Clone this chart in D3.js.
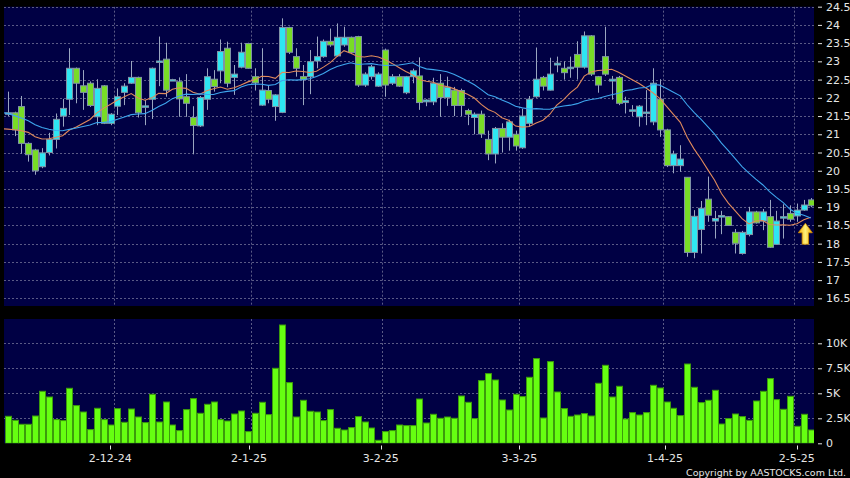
<!DOCTYPE html>
<html><head><meta charset="utf-8">
<script src="https://cdn.jsdelivr.net/npm/d3@7"></script>
<style>html,body{margin:0;padding:0;background:#000;}svg{display:block}</style>
</head><body>
<svg id="chart" width="850" height="478"></svg>
<script>
// ---------- DATA ----------
const opens  = [21.57,21.59,21.76,20.75,20.57,20.11,20.50,20.86,21.50,21.96,
                22.81,22.33,22.40,21.48,22.33,21.30,21.77,22.15,22.40,22.56,
                21.77,21.96,23.00,23.06,22.48,22.44,22.03,21.46,21.23,21.96,
                22.51,22.74,23.36,22.56,22.84,23.49,22.58,21.80,22.20,21.76,
                21.60,23.93,23.13,22.58,22.58,23.01,23.13,23.55,23.15,23.45,
                23.66,23.68,22.35,22.58,22.32,23.31,22.40,22.58,22.14,22.58,
                22.60,21.89,21.89,22.40,22.01,22.21,22.20,21.65,21.46,21.55,
                20.86,20.46,21.16,20.92,21.00,20.63,21.30,22.03,22.56,22.21,
                22.90,22.81,22.83,23.19,22.84,23.70,22.58,23.13,22.46,22.56,
                21.87,21.66,21.48,21.60,21.34,21.96,21.12,20.14,20.14,19.82,
                17.76,18.39,19.22,18.62,18.74,18.74,18.31,17.73,18.25,18.87,
                18.62,18.74,17.98,18.72,18.83,18.76,18.92,19.20];
const highs  = [22.17,21.62,22.05,20.78,20.60,20.62,21.04,21.57,21.97,23.36,
                22.83,22.76,22.45,22.51,22.35,21.58,22.26,22.40,23.01,22.58,
                21.94,22.83,23.68,23.51,22.52,22.56,22.65,21.77,22.05,22.81,
                22.76,23.60,23.54,22.90,23.51,23.51,22.81,23.36,22.35,22.10,
                24.18,23.95,23.36,22.90,23.31,23.68,23.60,23.90,24.04,23.95,
                23.68,23.70,22.70,22.90,22.70,23.35,22.65,22.65,22.60,22.80,
                23.11,21.96,22.55,22.65,22.58,22.30,22.25,21.70,21.60,21.65,
                21.10,21.20,21.30,21.40,21.10,21.70,22.05,23.38,22.60,23.10,
                23.13,23.00,23.13,23.55,23.82,23.72,22.60,23.95,22.60,22.60,
                22.03,21.80,21.80,22.21,22.81,22.51,21.15,20.55,20.70,19.82,
                18.92,19.17,19.84,18.90,18.90,18.75,18.40,18.35,19.01,18.90,
                18.95,19.20,18.90,19.08,19.05,19.10,19.20,19.25];
const lows   = [21.50,20.95,20.47,20.25,19.89,20.07,20.42,20.61,21.21,21.53,
                21.85,21.67,21.75,21.25,21.28,21.25,21.53,21.80,22.38,21.46,
                21.25,21.42,22.32,22.03,22.46,21.48,21.48,20.45,21.20,21.67,
                22.17,22.40,22.29,22.08,22.81,22.80,22.20,21.78,21.85,21.37,
                21.58,23.20,22.58,21.80,22.10,22.81,23.10,23.40,23.13,23.40,
                23.20,22.30,22.30,22.50,22.30,22.03,22.35,22.30,22.10,22.40,
                21.67,21.77,21.80,21.48,21.78,21.50,21.50,21.25,21.00,20.90,
                20.29,20.20,20.50,20.55,20.55,20.60,21.20,22.00,22.20,22.20,
                22.70,22.50,22.55,22.50,22.80,22.60,22.14,22.60,21.95,21.80,
                21.57,21.50,21.21,21.25,21.25,20.93,20.10,19.93,19.97,17.64,
                17.60,17.73,18.60,18.14,18.26,18.50,17.73,17.70,18.20,18.55,
                18.37,17.88,17.98,18.14,18.60,18.60,18.90,19.00];
const closes = [21.59,21.12,20.75,20.44,20.00,20.49,20.86,21.41,21.71,22.81,
                22.40,22.15,21.79,22.26,21.30,21.55,22.03,22.32,22.56,21.59,
                21.78,22.81,23.01,22.21,22.50,21.97,21.85,21.24,22.01,22.58,
                22.31,23.27,22.40,22.65,23.25,22.81,22.41,22.21,21.96,22.08,
                23.93,23.25,22.81,22.51,22.99,23.13,23.55,23.45,23.66,23.66,
                23.24,22.35,22.65,22.85,22.65,22.35,22.58,22.32,22.58,22.74,
                21.87,21.94,22.40,22.01,22.29,21.79,21.79,21.55,21.55,21.01,
                20.46,21.16,20.92,21.34,20.68,21.50,21.96,22.51,22.32,22.65,
                22.95,22.69,22.84,22.84,23.70,22.65,22.35,22.65,22.51,21.85,
                21.92,21.67,21.77,21.61,22.40,21.12,20.14,20.46,20.32,17.76,
                18.75,18.97,18.78,18.69,18.77,18.50,18.01,18.31,18.87,18.57,
                18.87,17.90,18.62,18.74,18.67,18.92,19.06,19.04];
// volume in thousands of shares
const volumes = [2.70,2.30,1.90,1.90,2.73,5.20,4.63,2.37,2.27,5.50,
                 3.77,3.13,1.37,3.50,2.37,1.83,3.47,2.10,3.43,2.63,
                 2.07,4.90,2.13,4.13,1.83,1.27,3.37,4.47,3.00,3.90,
                 4.13,2.37,2.23,2.93,3.23,1.17,3.00,4.10,2.87,7.50,
                 11.83,6.07,2.63,4.30,3.20,3.13,2.27,3.37,1.50,1.33,
                 1.57,2.67,2.13,1.53,0.30,1.17,1.27,1.83,1.77,1.77,
                 4.43,2.03,2.90,2.50,2.63,2.50,4.73,4.10,2.47,6.27,
                 6.97,6.33,4.33,3.33,4.90,4.67,6.60,8.47,2.53,8.17,
                 5.13,3.47,2.70,2.83,2.97,2.73,6.00,7.80,4.63,5.70,
                 2.43,3.07,2.83,3.07,5.80,5.53,4.13,3.50,2.77,7.93,
                 5.60,4.07,4.30,5.30,1.93,2.47,2.93,2.67,2.30,4.23,
                 5.20,6.47,4.37,3.40,4.70,1.70,2.90,1.33];
// estimated closes before the first visible session (feed the moving averages)
const priorCloses = [22.20,22.30,22.10,21.90,22.20,22.00,21.80,22.10,21.90,22.00,
                     21.70,21.30,21.00,20.90,21.20,21.10,20.80,21.00,21.30,21.23];
const monthStartIdx = [16,36,55,75,96,115];
const monthLabels = ["2-12-24","2-1-25","3-2-25","3-3-25","1-4-25","2-5-25"];
const priceTicks = [16.5,17,17.5,18,18.5,19,19.5,20,20.5,21,21.5,22,22.5,23,23.5,24,24.5];
const volumeTicks = [0,2.5,5,7.5,10];
const volumeTickLabels = ["0","2.5K","5K","7.5K","10K"];
const maPeriods = [10,20];
const signalIdx = [116];
const signalPrice = [18.56];

// ---------- LAYOUT ----------
const W = 850, H = 478;
const panelL = 4, panelR = 814;
const priceTop = 6.67, priceBottom = 306;
const volTop = 319, volBottom = 443.3;
const FONT = "'DejaVu Sans', Verdana, sans-serif";

const C = {
  bg: "#000000", panel: "#000044", grid: "#5a5a86", text: "#e6e6e6",
  up: "#2ee6f2", down: "#78dc26", bodyStroke: "#7f93a6", wick: "#9aa6c0",
  vol: "#66ff11", volStroke: "#3c9c0c", ma10: "#e08a5c", ma20: "#3ea6ee"
};

const svg = d3.select("#chart");
svg.append("rect").attr("width", W).attr("height", H).attr("fill", C.bg);

const n = closes.length;
const x = d3.scaleLinear().domain([0, n - 1]).range([7.67, 810.7]);
const step = x(1) - x(0);
const labelX = d3.scaleLinear().domain([monthStartIdx[0], monthStartIdx[monthStartIdx.length-1]]).range([110.3, 796.7]);
const yP = d3.scaleLinear().domain([16.29, 24.5]).range([priceBottom, priceTop]);
const yV = d3.scaleLinear().domain([0, 12.43]).range([volBottom, volTop]);

const defs = svg.append("defs");
defs.append("clipPath").attr("id", "clipP").append("rect")
  .attr("x", panelL).attr("y", priceTop).attr("width", panelR - panelL).attr("height", priceBottom - priceTop);
defs.append("clipPath").attr("id", "clipV").append("rect")
  .attr("x", panelL).attr("y", volTop).attr("width", panelR - panelL).attr("height", volBottom - volTop);
const grad = defs.append("linearGradient").attr("id", "arrowGrad").attr("x1", 0).attr("x2", 1).attr("y1", 0).attr("y2", 0);
grad.append("stop").attr("offset", "0%").attr("stop-color", "#f0a800");
grad.append("stop").attr("offset", "50%").attr("stop-color", "#fff07a");
grad.append("stop").attr("offset", "100%").attr("stop-color", "#f0a800");

// panels
svg.append("rect").attr("x", panelL).attr("y", priceTop).attr("width", panelR - panelL)
  .attr("height", priceBottom - priceTop).attr("fill", C.panel);
svg.append("rect").attr("x", panelL).attr("y", volTop).attr("width", panelR - panelL)
  .attr("height", volBottom - volTop).attr("fill", C.panel);

const crisp = v => Math.round(v) + 0.5;

// grids
const gP = svg.append("g").attr("clip-path", "url(#clipP)");
gP.selectAll("line.h").data(priceTicks).join("line")
  .attr("x1", panelL).attr("x2", panelR)
  .attr("y1", d => crisp(yP(d))).attr("y2", d => crisp(yP(d)))
  .attr("stroke", C.grid).attr("stroke-dasharray", "2,2");
gP.selectAll("line.v").data(monthStartIdx).join("line")
  .attr("x1", d => crisp(x(d) - step / 2)).attr("x2", d => crisp(x(d) - step / 2))
  .attr("y1", priceTop).attr("y2", priceBottom)
  .attr("stroke", C.grid).attr("stroke-dasharray", "2,2");

const gV = svg.append("g").attr("clip-path", "url(#clipV)");
gV.selectAll("line.h").data(volumeTicks.filter(d => d > 0)).join("line")
  .attr("x1", panelL).attr("x2", panelR)
  .attr("y1", d => crisp(yV(d))).attr("y2", d => crisp(yV(d)))
  .attr("stroke", C.grid).attr("stroke-dasharray", "2,2");
gV.selectAll("line.v").data(monthStartIdx).join("line")
  .attr("x1", d => crisp(x(d) - step / 2)).attr("x2", d => crisp(x(d) - step / 2))
  .attr("y1", volTop).attr("y2", volBottom)
  .attr("stroke", C.grid).attr("stroke-dasharray", "2,2");

// candles
const idx = d3.range(n);
const gC = gP.append("g");
gC.selectAll("line.wick").data(idx).join("line")
  .attr("x1", i => crisp(x(i))).attr("x2", i => crisp(x(i)))
  .attr("y1", i => yP(highs[i])).attr("y2", i => yP(lows[i]))
  .attr("stroke", C.wick).attr("stroke-width", 1);
gC.selectAll("rect.body").data(idx).join("rect")
  .attr("x", i => Math.round(x(i)) - 2.5)
  .attr("width", 6)
  .attr("y", i => yP(Math.max(opens[i], closes[i])))
  .attr("height", i => Math.max(1.5, Math.abs(yP(opens[i]) - yP(closes[i]))))
  .attr("fill", i => closes[i] >= opens[i] ? C.up : C.down)
  .attr("stroke", C.bodyStroke).attr("stroke-width", 1);

// moving averages
const allCloses = priorCloses.concat(closes);
const off = priorCloses.length;
function sma(p) {
  const out = [];
  for (let i = -1; i < n; i++) {
    const k = i + off;
    if (k - p + 1 < 0) continue;
    out.push([i, d3.mean(allCloses.slice(k - p + 1, k + 1))]);
  }
  return out;
}
const line = d3.line().x(d => x(d[0])).y(d => yP(d[1])).curve(d3.curveLinear);
[[maPeriods[0], C.ma10], [maPeriods[1], C.ma20]].forEach(([p, col]) => {
  gP.append("path").datum(sma(p)).attr("d", line).attr("fill", "none")
    .attr("stroke", col).attr("stroke-width", 1.1);
});

// signal arrow
signalIdx.forEach((si, k) => {
  const cx = x(si) + 1.5, ty = yP(signalPrice[k]);
  const path = `M${cx},${ty} L${cx + 7},${ty + 9.5} L${cx + 3.2},${ty + 9.5} L${cx + 3.2},${ty + 21} L${cx - 3.2},${ty + 21} L${cx - 3.2},${ty + 9.5} L${cx - 7},${ty + 9.5} Z`;
  svg.append("path").attr("d", path).attr("fill", "url(#arrowGrad)").attr("stroke", "#d08a00").attr("stroke-width", 0.8);
});

// volume bars
gV.selectAll("rect.vol").data(idx).join("rect")
  .attr("x", i => Math.round(x(i)) - 2.5).attr("width", 6)
  .attr("y", i => yV(volumes[i])).attr("height", i => yV(0) - yV(volumes[i]))
  .attr("fill", C.vol).attr("stroke", C.volStroke).attr("stroke-width", 1);

// right axes
function styleAxis(g) {
  g.select(".domain").remove();
  g.selectAll(".tick line").attr("stroke", C.text).attr("stroke-width", 1);
  g.selectAll(".tick text").attr("fill", C.text).style("font-family", FONT).style("font-size", "11px");
}
const axP = d3.axisRight(yP).tickValues(priceTicks).tickSize(4).tickPadding(4)
  .tickFormat(d => String(d));
svg.append("g").attr("transform", "translate(818,0)").call(axP).call(styleAxis);
const axV = d3.axisRight(yV).tickValues(volumeTicks).tickSize(4).tickPadding(4)
  .tickFormat((d, i) => volumeTickLabels[i]);
svg.append("g").attr("transform", "translate(818,0)").call(axV).call(styleAxis);

// bottom date axis
const gX = svg.append("g");
gX.selectAll("line").data(monthStartIdx).join("line")
  .attr("x1", d => crisp(labelX(d))).attr("x2", d => crisp(labelX(d)))
  .attr("y1", 445.5).attr("y2", 449.5).attr("stroke", C.text);
gX.selectAll("text").data(monthStartIdx).join("text")
  .attr("x", d => labelX(d)).attr("y", 462)
  .attr("text-anchor", "middle").attr("fill", C.text)
  .style("font-family", FONT).style("font-size", "11px")
  .text((d, i) => monthLabels[i]);

svg.append("text").attr("x", 846).attr("y", 475.5).attr("text-anchor", "end")
  .attr("fill", C.text).style("font-family", FONT).style("font-size", "9.5px")
  .text("Copyright by AASTOCKS.com Ltd.");
</script>
</body></html>
